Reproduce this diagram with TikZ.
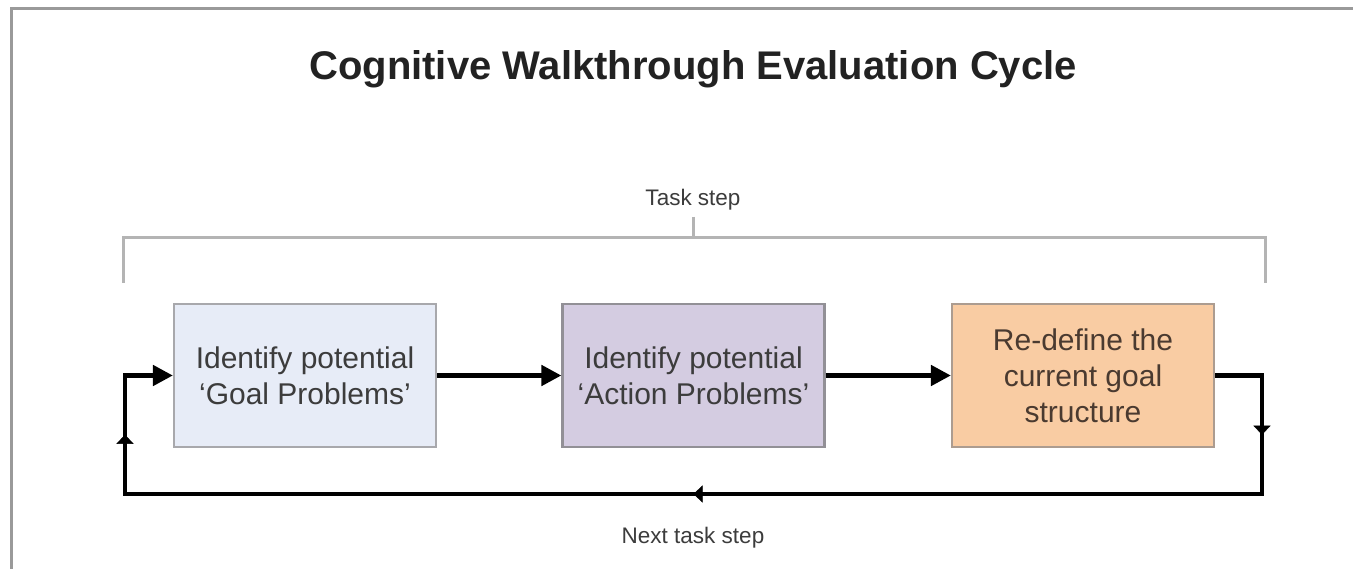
\documentclass[tikz,border=0pt]{standalone}
\usepackage{fontspec}
\setmainfont{Liberation Sans}
\usetikzlibrary{arrows.meta,decorations.markings}

\definecolor{frameGray}{HTML}{9A9A9A}
\definecolor{braceGray}{HTML}{B4B4B4}
\definecolor{goalFill}{HTML}{E7ECF7}
\definecolor{goalEdge}{HTML}{A8A8AC}
\definecolor{actFill}{HTML}{D4CCE1}
\definecolor{actEdge}{HTML}{929096}
\definecolor{redefFill}{HTML}{F9CCA3}
\definecolor{redefEdge}{HTML}{AC9C90}
\definecolor{boxText}{HTML}{3C3C3C}
\definecolor{redefText}{HTML}{4A3A30}
\definecolor{titleText}{HTML}{222222}

\tikzset{
  stagebox/.style={draw, line width=2.2pt, minimum width=262pt, minimum height=143pt,
    inner sep=0pt, align=center, text=boxText,
    font=\fontsize{30}{36}\selectfont},
  flow/.style={line width=4.8pt, -{Triangle[length=20pt,width=20pt]}},
  loopline/.style={line width=4.8pt, line join=miter},
  midtip/.style={decoration={markings,
      mark=at position 0.5 with {\arrow{Triangle[length=9pt,width=17pt]}}},
    postaction=decorate},
  bracketline/.style={draw=braceGray, line width=3pt},
  smalllabel/.style={text=boxText, font=\fontsize{22.5}{27}\selectfont, anchor=base, inner sep=0pt},
}

\begin{document}
\begin{tikzpicture}[x=1pt, y=-1pt]
  \useasboundingbox (0,0) rectangle (1353,569);
  \fill[white] (0,0) rectangle (1353,569);

  % outer frame (top and left edges)
  \draw[frameGray, line width=3pt] (11,569) -- (11,9) -- (1353,9);

  % title
  \node[anchor=base, inner sep=0pt, text=titleText,
        font=\fontsize{40}{48}\selectfont\bfseries] (title) at (693,80)
        {Cognitive Walkthrough Evaluation Cycle};

  % task step bracket
  \node[smalllabel] (tasklbl) at (693,206) {Task step};
  \coordinate (brL) at (123,283);
  \coordinate (brR) at (1265,283);
  \coordinate (brTop) at (693,217);
  \draw[bracketline] (brL) -- (brL |- 0,238) -- (brR |- 0,238) -- (brR);
  \draw[bracketline] (brTop) -- (brTop |- 0,238);

  % the three stages
  \node[stagebox, fill=goalFill, draw=goalEdge] (goal) at (305,375.5)
        {Identify potential\\`Goal Problems'};
  \node[stagebox, fill=actFill, draw=actEdge] (act) at (693.5,375.5)
        {Identify potential\\`Action Problems'};
  \node[stagebox, fill=redefFill, draw=redefEdge, text=redefText] (redef) at (1083,375.5)
        {Re-define the\\current goal\\structure};

  % forward flow
  \draw[flow] (goal.east) -- (act.west);
  \draw[flow] (act.east) -- (redef.west);

  % return loop to the next task step
  \coordinate (rtop) at (1262,375.5);
  \coordinate (rbot) at (1262,494);
  \coordinate (lbot) at (125,494);
  \coordinate (ltop) at (125,375.5);
  \draw[loopline, flow] (redef.east) -- (rtop) -- (rbot) -- (lbot) -- (ltop) -- (goal.west);
  \path[midtip] (rtop) -- (rbot);
  \path[midtip] (rbot) -- (lbot);
  \path[midtip] (lbot) -- (ltop);

  \node[smalllabel] (nextlbl) at (693,543) {Next task step};
\end{tikzpicture}
\end{document}
